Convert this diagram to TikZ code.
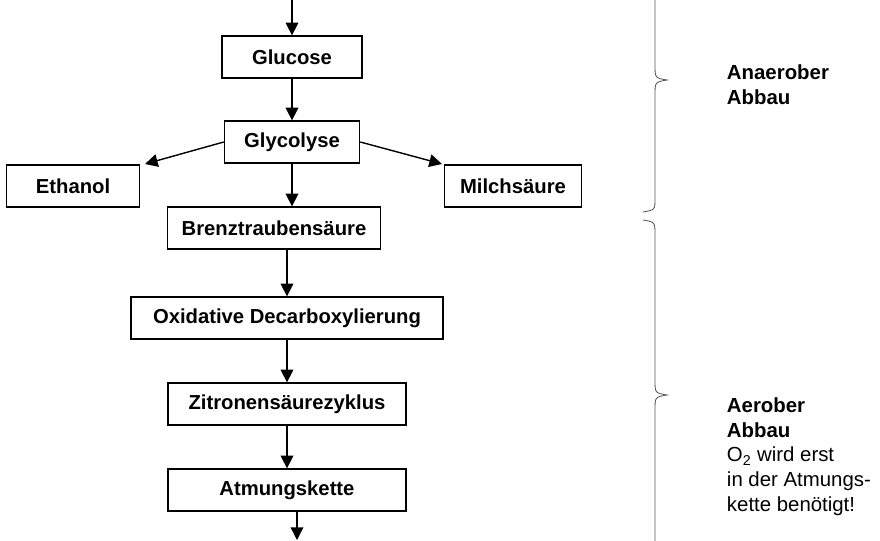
\documentclass[tikz,border=0pt]{standalone}
\usepackage{fontspec}
\setmainfont{Liberation Sans}
\usetikzlibrary{arrows.meta,positioning}

\begin{document}
\begin{tikzpicture}[
  x=0.025cm, y=-0.025cm,
  box/.style={draw, line width=0.9pt, font=\fontsize{14.4}{17}\selectfont\bfseries,
    minimum height=1.05cm, inner sep=2pt},
  arr/.style={-{Triangle[length=9pt,width=9pt]}, line width=1pt},
  brc/.style={draw=gray!70!black, line width=0.6pt},
  lbl/.style={font=\fontsize{14.5}{17.5}\selectfont, align=left, anchor=north west}
]
  \useasboundingbox (0,0) rectangle (880,540);

  % Boxes
  \node[box, minimum width=3.5cm] (glucose) at (292,57) {Glucose};
  \node[box, minimum width=3.38cm] (glyco) at (292,142) {Glycolyse};
  \node[box, minimum width=3.33cm] (ethanol) at (73,186) {Ethanol};
  \node[box, minimum width=3.43cm] (milch) at (513,186) {Milchsäure};
  \node[box, minimum width=5.33cm] (brenz) at (274,228) {Brenztraubensäure};
  \node[box, minimum width=7.8cm] (oxdec) at (287,318) {Oxidative Decarboxylierung};
  \node[box, minimum width=5.95cm] (zitro) at (287,404) {Zitronensäurezyklus};
  \node[box, minimum width=5.95cm] (atmung) at (287,490) {Atmungskette};
  \coordinate (top) at (292,0);
  \coordinate (bot) at (297,540);
  \coordinate (ethin) at (145,164);
  \coordinate (milchin) at (442,164);

  % Arrows
  \draw[arr] (top) -- (glucose);
  \draw[arr] (glucose) -- (glyco);
  \draw[arr] (glyco.west) -- (ethin);
  \draw[arr] (glyco.east) -- (milchin);
  \draw[arr] (glyco.south) -- (glyco.south |- brenz.north);
  \draw[arr] (oxdec.north |- brenz.south) -- (oxdec);
  \draw[arr] (oxdec) -- (zitro);
  \draw[arr] (zitro) -- (atmung);
  \draw[arr] (atmung.south -| bot) -- (bot);

  % Braces
  \draw[brc] (643,-10) .. controls (655,-8) .. (655,5) -- (655,65)
    .. controls (655,78) .. (667,80) .. controls (655,82) .. (655,95)
    -- (655,198) .. controls (655,210) .. (643,212);
  \draw[brc] (643,220) .. controls (655,222) .. (655,235) -- (655,380)
    .. controls (655,393) .. (667,395) .. controls (655,397) .. (655,410)
    -- (655,545);

  % Labels
  \node[lbl] (anaer) at (722,60) {\textbf{Anaerober}\\\textbf{Abbau}};
  \node[lbl] (aer) at (722,393) {\textbf{Aerober}\\\textbf{Abbau}\\O\textsubscript{2} wird erst\\in der Atmungs-\\kette benötigt!};
\end{tikzpicture}
\end{document}
